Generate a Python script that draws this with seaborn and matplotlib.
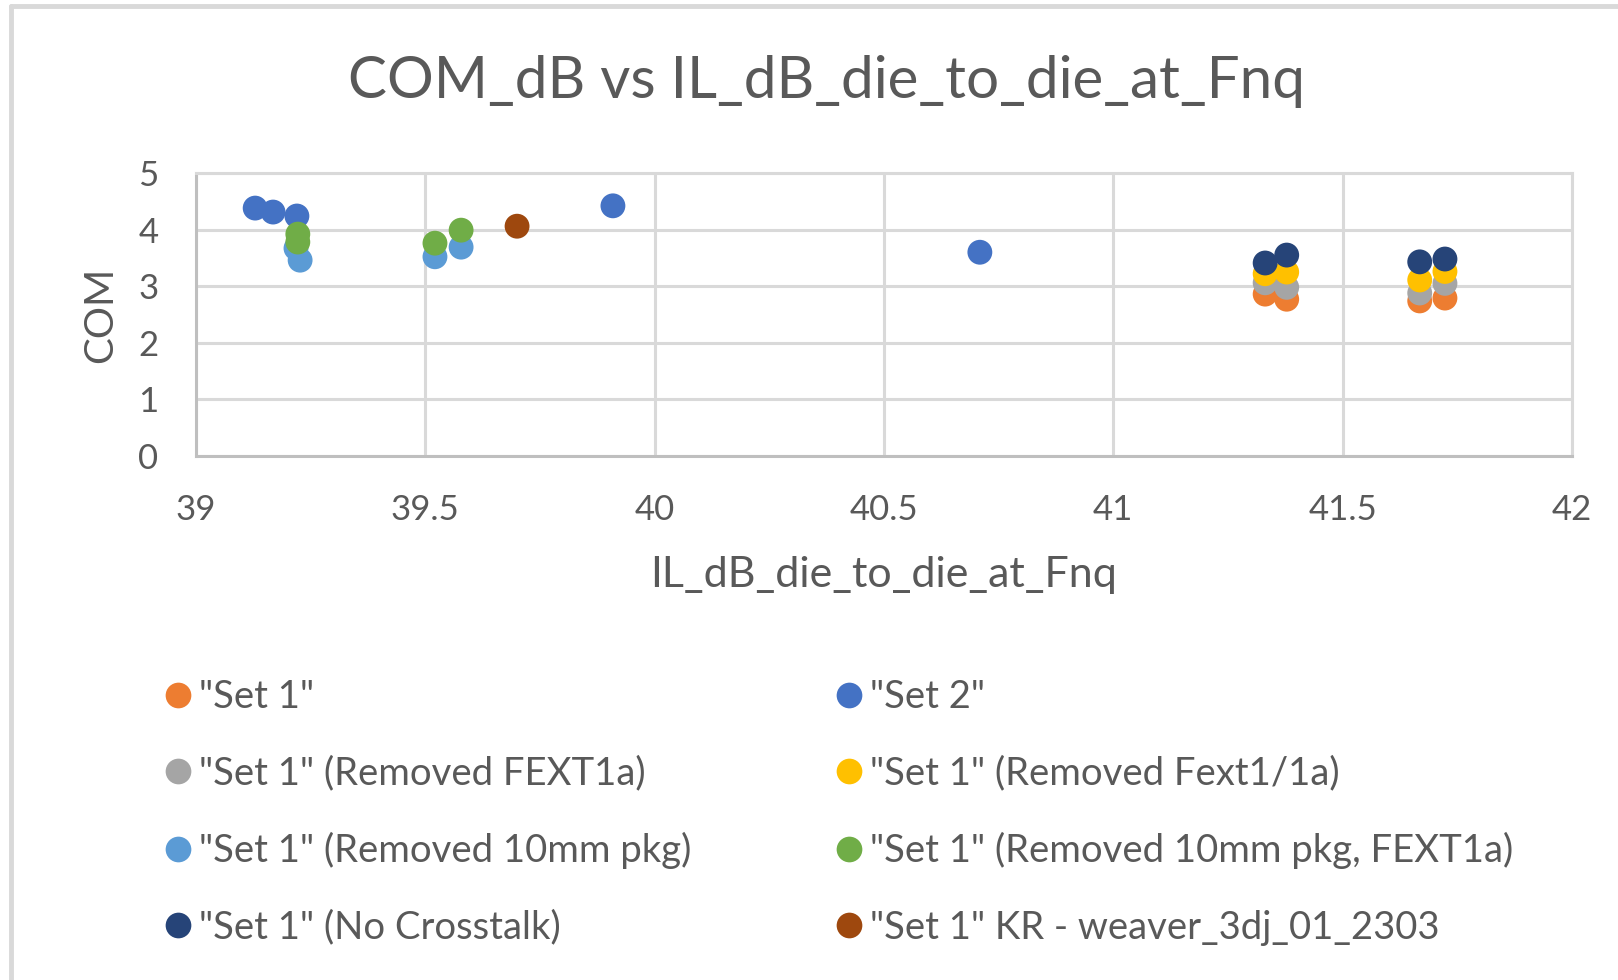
import matplotlib
matplotlib.use("Agg")
import matplotlib.pyplot as plt
import numpy as np
import pandas as pd
import seaborn as sns
from matplotlib.lines import Line2D

sns.set_theme(style="white")
plt.rcParams["font.family"] = ["Lato", "DejaVu Sans"]

TEXT = "#595959"
GRID = "#D9D9D9"

# --------------------------------------------------------------------------
# Data (series in Excel order; later series are drawn on top)
# --------------------------------------------------------------------------
SERIES = [
    '"Set 1"',
    '"Set 2"',
    '"Set 1" (Removed FEXT1a)',
    '"Set 1" (Removed Fext1/1a)',
    '"Set 1" (Removed 10mm pkg)',
    '"Set 1" (Removed 10mm pkg, FEXT1a)',
    '"Set 1" (No Crosstalk)',
    '"Set 1" KR - weaver_3dj_01_2303',
]
COLOURS = ["#ED7D31", "#4472C4", "#A5A5A5", "#FFC000",
           "#5B9BD5", "#70AD47", "#264478", "#9E480E"]

set1_x = [41.331, 41.378, 41.668, 41.723]
set1_y = [2.86, 2.77, 2.74, 2.79]

set2_x = [39.129, 39.168, 39.220, 39.909, 40.709]
set2_y = [4.38, 4.31, 4.24, 4.42, 3.60]

fext1a_x = [41.331, 41.378, 41.668, 41.723]
fext1a_y = [3.06, 2.98, 2.88, 3.05]

fext11a_x = [41.331, 41.378, 41.668, 41.723]
fext11a_y = [3.22, 3.25, 3.11, 3.26]

pkg_x = [39.218, 39.227, 39.521, 39.578]
pkg_y = [3.67, 3.46, 3.52, 3.69]

pkg_fext_x = [39.222, 39.222, 39.521, 39.578]
pkg_fext_y = [3.92, 3.78, 3.76, 3.99]

noxt_x = [41.331, 41.378, 41.668, 41.723]
noxt_y = [3.41, 3.55, 3.43, 3.48]

kr_x = [39.700]
kr_y = [4.06]

xs = [set1_x, set2_x, fext1a_x, fext11a_x, pkg_x, pkg_fext_x, noxt_x, kr_x]
ys = [set1_y, set2_y, fext1a_y, fext11a_y, pkg_y, pkg_fext_y, noxt_y, kr_y]

df = pd.concat(
    [pd.DataFrame({"IL": x, "COM": y, "series": name})
     for name, x, y in zip(SERIES, xs, ys)],
    ignore_index=True,
)
palette = dict(zip(SERIES, COLOURS))

# --------------------------------------------------------------------------
# Figure
# --------------------------------------------------------------------------
fig = plt.figure(figsize=(16.18, 9.80), dpi=100)
ax = fig.add_axes([196 / 1618, 1 - 456 / 980, 1376 / 1618, 283 / 980])

sns.scatterplot(data=df, x="IL", y="COM", hue="series", palette=palette,
                s=320, linewidth=0, alpha=1, legend=False, ax=ax, zorder=3)

ax.set_xlim(39, 42)
ax.set_ylim(0, 5)
ax.set_xticks(np.arange(39, 42.01, 0.5))
ax.set_xticklabels(["39", "39.5", "40", "40.5", "41", "41.5", "42"])
ax.set_yticks(range(0, 6))
ax.grid(True, color=GRID, linewidth=2.2)
ax.set_axisbelow(True)
for sp in ax.spines.values():
    sp.set_color(GRID)
    sp.set_linewidth(2.2)
ax.spines["left"].set_color("#BFBFBF")
ax.spines["bottom"].set_color("#BFBFBF")
ax.tick_params(axis="both", colors=TEXT, labelsize=25, length=0)
ax.tick_params(axis="x", pad=27)
ax.tick_params(axis="y", pad=27)

ax.set_xlabel("IL_dB_die_to_die_at_Fnq", color=TEXT, fontsize=31, labelpad=22)
ax.set_ylabel("COM", color=TEXT, fontsize=29, labelpad=14)

fig.text(0.511, 1 - 82 / 980, "COM_dB vs IL_dB_die_to_die_at_Fnq", color=TEXT,
         fontsize=42, ha="center", va="center")

# legend: two columns, filled column-wise
order = [0, 2, 4, 6, 1, 3, 5, 7]
handles = [Line2D([], [], marker="o", linestyle="", markersize=18.5,
                  markerfacecolor=COLOURS[i], markeredgewidth=0)
           for i in order]
labels = [SERIES[i] for i in order]
fig.legend(handles, labels, ncol=2, loc="upper left",
           bbox_to_anchor=(165 / 1618, 1 - 679 / 980), frameon=False,
           fontsize=27.5, labelcolor=TEXT, handlelength=0.7,
           handletextpad=0.18, columnspacing=3.8, labelspacing=1.06,
           borderpad=0, borderaxespad=0)

# light frame on top and left edges
fig.add_artist(plt.Line2D([11 / 1618, 11 / 1618], [0, 1 - 6 / 980],
                          color=GRID, linewidth=3.5, transform=fig.transFigure))
fig.add_artist(plt.Line2D([11 / 1618, 1], [1 - 6 / 980, 1 - 6 / 980],
                          color=GRID, linewidth=3.5, transform=fig.transFigure))

fig.savefig("out.png", dpi=100)
